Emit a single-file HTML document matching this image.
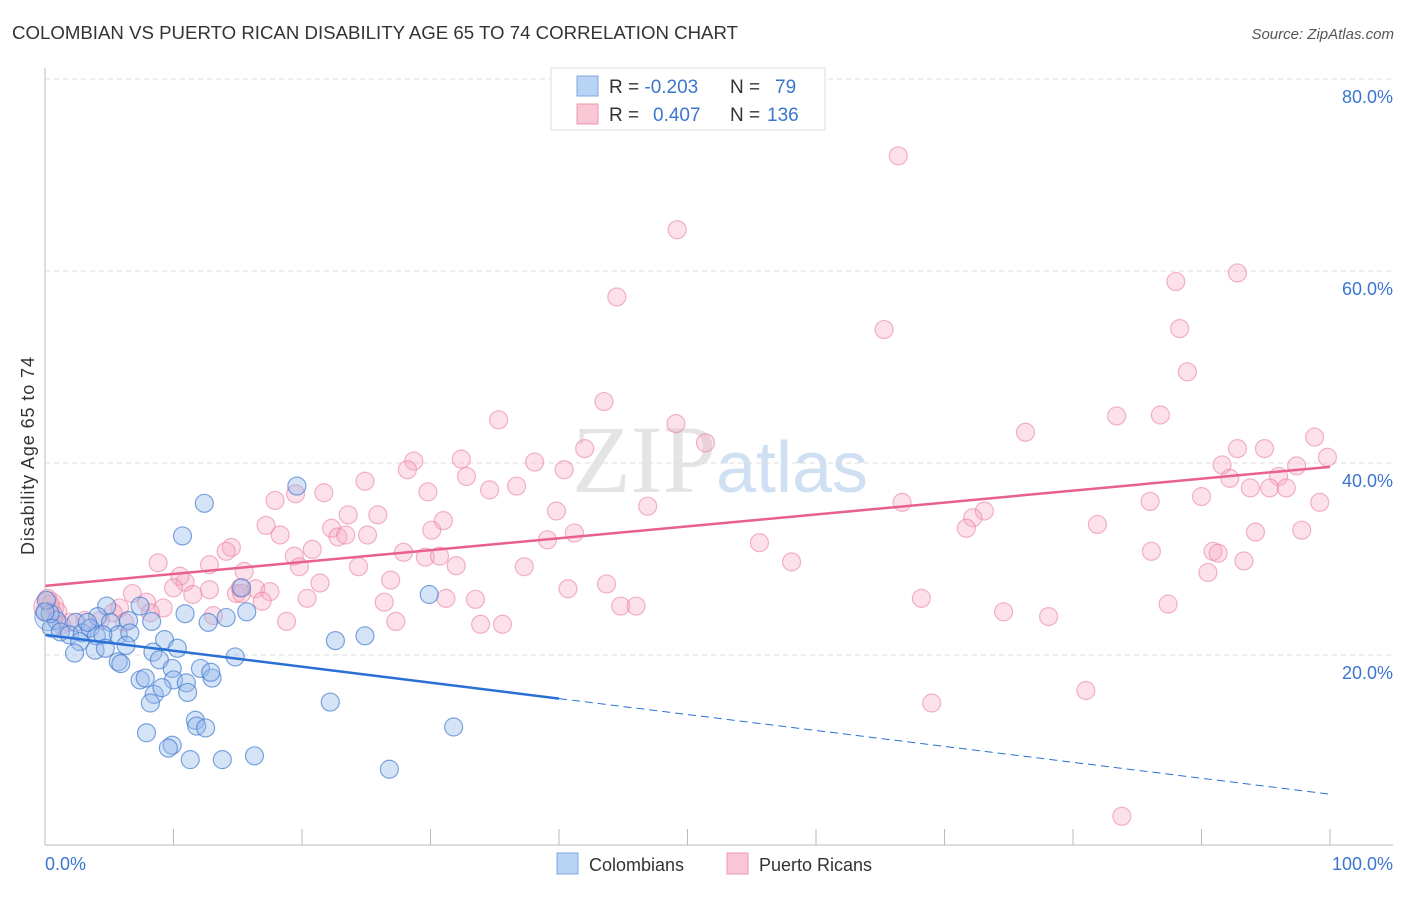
<!DOCTYPE html>
<html><head><meta charset="utf-8"><style>
body{margin:0;background:#fff;font-family:"Liberation Sans",sans-serif}
#w{position:relative;width:1406px;height:892px}
</style></head><body><div id="w">
<svg id="s" width="1406" height="892" xmlns="http://www.w3.org/2000/svg">
<text x="12" y="39" font-size="18" fill="#333" textLength="726" lengthAdjust="spacingAndGlyphs">COLOMBIAN VS PUERTO RICAN DISABILITY AGE 65 TO 74 CORRELATION CHART</text>
<text x="1394" y="39" font-size="15" fill="#555" font-style="italic" text-anchor="end">Source: ZipAtlas.com</text>
<text x="720" y="492" font-size="96" fill="#e4e4e4" text-anchor="middle" font-family="Liberation Serif">ZIP<tspan fill="#cfe0f3" font-family="Liberation Sans" font-size="72">atlas</tspan></text>
<text transform="translate(34,456) rotate(-90)" font-size="18" fill="#333" text-anchor="middle" textLength="198">Disability Age 65 to 74</text>
<g id="grid"></g><g id="pts"></g><g id="trend"></g>
<line x1="45" y1="68" x2="45" y2="845" stroke="#bbb"/>
<line x1="45" y1="845" x2="1393" y2="845" stroke="#bbb"/>
<text x="45" y="870" font-size="18" fill="#3a76d0">0.0%</text>
<text x="1393" y="870" font-size="18" fill="#3a76d0" text-anchor="end">100.0%</text>
<g>
<rect x="551" y="68" width="274" height="62" fill="#fff" stroke="#ddd"/>
<rect x="577" y="76" width="21" height="20" fill="#b9d3f5" stroke="#7ea6e0"/>
<rect x="577" y="104" width="21" height="20" fill="#f9c6d5" stroke="#eb98b2"/>
<text x="609" y="93" font-size="19" fill="#333">R = <tspan fill="#3a76d0">-0.203</tspan><tspan x="730">N = </tspan><tspan x="775" fill="#3a76d0">79</tspan></text>
<text x="609" y="121" font-size="19" fill="#333">R = <tspan x="653" fill="#3a76d0">0.407</tspan><tspan x="730">N = </tspan><tspan x="767" fill="#3a76d0">136</tspan></text>
</g>
<g>
<rect x="557" y="853" width="21" height="21" fill="#b9d3f5" stroke="#7ea6e0"/>
<text x="589" y="871" font-size="18" fill="#333">Colombians</text>
<rect x="727" y="853" width="21" height="21" fill="#f9c6d5" stroke="#eb98b2"/>
<text x="759" y="871" font-size="18" fill="#333">Puerto Ricans</text>
</g>
</svg></div>
<script>
const yTicks=[20,40,60,80];
const yTickLabels=["20.0%","40.0%","60.0%","80.0%"];
const xTicks=[0,10,20,30,40,50,60,70,80,90,100];
const pinkX=[66.4,49.2,44.5,65.3,88.0,92.8,88.3,88.9,43.5,35.3,49.1,51.4,83.4,86.8,76.3,98.8,99.8,92.8,94.9,91.6,97.4,92.2,96.0,93.8,95.3,96.6,99.2,86.0,90.0,66.7,73.1,72.2,71.7,81.9,94.2,97.8,86.1,90.9,91.3,93.3,90.5,87.4,55.6,58.1,68.2,74.6,78.1,69.0,81.0,83.8,46.9,39.8,39.1,41.2,40.7,43.7,44.8,46.0,38.1,40.4,42.0,32.4,32.8,34.6,36.7,28.7,28.2,29.8,24.9,19.5,17.9,17.2,18.3,21.7,23.6,25.9,25.1,22.3,22.8,23.4,19.4,20.8,19.8,27.9,29.6,30.7,32.0,30.1,31.0,24.4,26.9,21.4,20.4,26.4,27.3,33.5,33.9,35.6,37.3,31.2,8.8,14.5,14.1,12.8,15.5,16.4,14.9,17.5,10.9,10.5,10.0,11.5,12.8,13.1,9.2,7.9,6.8,5.8,5.3,4.3,3.1,1.9,1.0,0.4,0.2,1.3,8.2,6.2,15.2,16.9,18.8,15.3];
const pinkY=[72.0,64.3,57.3,53.9,58.9,59.8,54.0,49.5,46.4,44.5,44.1,42.1,44.9,45.0,43.2,42.7,40.6,41.5,41.5,39.8,39.7,38.4,38.6,37.4,37.4,37.4,35.9,36.0,36.5,35.9,35.0,34.3,33.2,33.6,32.8,33.0,30.8,30.8,30.6,29.8,28.6,25.3,31.7,29.7,25.9,24.5,24.0,15.0,16.3,3.2,35.5,35.0,32.0,32.7,26.9,27.4,25.1,25.1,40.1,39.3,41.5,40.4,38.6,37.2,37.6,40.2,39.3,37.0,38.1,36.8,36.1,33.5,32.5,36.9,34.6,34.6,32.5,33.2,32.3,32.5,30.3,31.0,29.2,30.7,30.2,30.3,29.3,33.0,34.0,29.2,27.8,27.5,25.9,25.5,23.5,25.8,23.2,23.2,29.2,25.9,29.6,31.2,30.8,29.4,28.7,26.9,26.4,26.6,27.6,28.2,27.0,26.3,26.8,24.1,24.9,25.5,26.4,24.9,24.4,23.6,23.6,23.4,24.5,25.3,25.9,23.1,24.4,23.4,27.0,25.6,23.5,26.4];
const blueX=[12.4,19.6,10.7,29.9,15.3,15.7,14.1,12.7,10.9,7.4,4.8,4.1,6.5,5.1,2.4,0.9,0.4,0.5,1.2,1.9,2.9,3.5,4.0,5.7,6.6,2.7,2.3,3.9,4.5,4.7,6.3,8.3,9.3,8.4,8.9,10.3,5.7,5.9,7.4,7.8,9.9,10.0,11.0,12.1,13.0,14.8,22.6,24.9,8.5,8.2,11.1,12.9,9.1,22.2,11.7,11.8,12.5,7.9,9.9,9.6,11.3,13.8,16.3,31.8,26.8,0.1,0.0,3.3];
const blueY=[35.8,37.6,32.4,26.3,27.0,24.5,23.9,23.4,24.3,25.1,25.1,24.0,23.6,23.4,23.4,23.6,24.3,22.8,22.4,22.1,22.3,22.8,22.0,22.1,22.3,21.4,20.2,20.5,22.1,20.7,21.0,23.5,21.6,20.3,19.5,20.7,19.3,19.1,17.4,17.6,18.6,17.4,17.1,18.6,17.6,19.8,21.5,22.0,15.9,15.0,16.1,18.2,16.6,15.1,13.2,12.6,12.4,11.9,10.6,10.3,9.1,9.1,9.5,12.5,8.1,25.7,24.5,23.4];
const pinkTrend=[27.2,0.124];
const blueTrend=[22.1,-0.166];
const blueSolidEnd=40;
const NS="http://www.w3.org/2000/svg";
function sx(v){return 45+v*12.85;}
function sy(v){return 847-v*9.6;}
function mk(t,a,p){const e=document.createElementNS(NS,t);for(const k in a)e.setAttribute(k,a[k]);p.appendChild(e);return e;}
const grid=document.getElementById('grid');
yTicks.forEach((t,i)=>{
 const l=mk('line',{x1:45,x2:1393,y1:sy(t),y2:sy(t),stroke:'#ddd','stroke-dasharray':'5,4'},grid);
 
 
 const tx=mk('text',{x:1393,y:sy(t)+24,'font-size':18,fill:'#3a76d0','text-anchor':'end'},grid);
 tx.textContent=yTickLabels[i];
 
 
});
xTicks.forEach(t=>{
 const l=mk('line',{x1:sx(t),x2:sx(t),y1:829,y2:845,stroke:'#bbb'},grid);
 
 
});
const pts=document.getElementById('pts');
const big1=mk('circle',{cx:sx(0.3),cy:sy(25),r:15,fill:'rgba(246,170,195,0.4)',stroke:'rgba(234,120,155,0.6)'},pts);


const big2=mk('circle',{cx:sx(0.3),cy:sy(24),r:14,fill:'rgba(150,185,235,0.35)',stroke:'rgba(58,118,208,0.6)'},pts);


pinkX.forEach((x,i)=>{
 const c=mk('circle',{cx:sx(x),cy:sy(pinkY[i]),r:9,fill:'rgba(246,170,195,0.35)',stroke:'rgba(234,120,155,0.55)','stroke-width':1.2},pts);
 
 
});
blueX.forEach((x,i)=>{
 const c=mk('circle',{cx:sx(x),cy:sy(blueY[i]),r:9,fill:'rgba(150,185,235,0.4)',stroke:'rgba(58,118,208,0.65)','stroke-width':1.2},pts);
 
 
});
const tr=document.getElementById('trend');
const pl=mk('line',{x1:sx(0),y1:sy(pinkTrend[0]),x2:sx(100),y2:sy(pinkTrend[0]+100*pinkTrend[1]),stroke:'#e8608c','stroke-width':2.5},tr);


const bl=mk('line',{x1:sx(0),y1:sy(blueTrend[0]),x2:sx(blueSolidEnd),y2:sy(blueTrend[0]+blueSolidEnd*blueTrend[1]),stroke:'#2a6fd6','stroke-width':2.5},tr);


const bd=mk('line',{x1:sx(blueSolidEnd),y1:sy(blueTrend[0]+blueSolidEnd*blueTrend[1]),x2:sx(100),y2:sy(blueTrend[0]+100*blueTrend[1]),stroke:'#2a6fd6','stroke-width':1,'stroke-dasharray':'8,5'},tr);


</script></body></html>
